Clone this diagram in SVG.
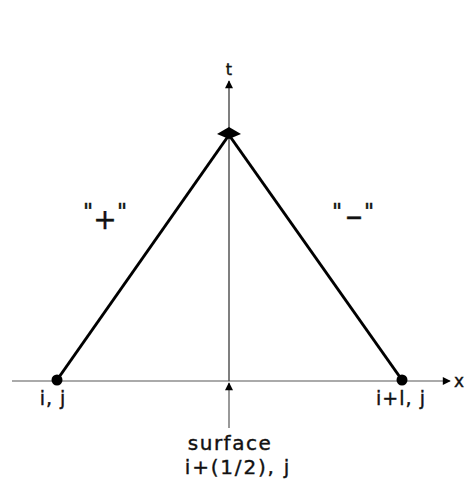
<svg xmlns="http://www.w3.org/2000/svg" width="467" height="489" viewBox="0 0 467 489">
<style>
text{font-family:"DejaVu Sans",sans-serif;fill:#111;stroke:#111;stroke-width:0.4}
.ax{stroke:#aaa;stroke-width:2;fill:none}
.ed{stroke:#000;stroke-width:3;fill:none}
</style>
<defs>
<marker id="ah" viewBox="0 0 10 10" refX="9" refY="5" markerWidth="10" markerHeight="8" markerUnits="userSpaceOnUse" orient="auto"><path d="M0,0L10,5L0,10z" fill="#000"/></marker>
</defs>
<rect width="467" height="489" fill="#fff"/>
<g id="connectors">
<line class="ax" x1="12" y1="381" x2="450" y2="381" marker-end="url(#ah)"/>
<line x1="229" y1="381" x2="229" y2="81" stroke="#555" stroke-width="1.5" marker-end="url(#ah)"/>
<line x1="229" y1="428" x2="229" y2="383" stroke="#777" stroke-width="1.5" marker-end="url(#ah)"/>
<line class="ed" x1="57" y1="380" x2="229" y2="135"/>
<line class="ed" x1="402" y1="380" x2="229" y2="135"/>
</g>
<g id="apex"><path d="M229,127L241,134L229,139L217,134z" fill="#000"/></g>
<g id="n-ij"><circle cx="57" cy="380" r="5.5" fill="#000"/><text x="53" y="405" font-size="19" letter-spacing="1" text-anchor="middle">i, j</text></g>
<g id="n-i1j"><circle cx="402" cy="380" r="5.5" fill="#000"/><text x="401" y="405" font-size="19" letter-spacing="1" text-anchor="middle">i+l, j</text></g>
<g id="axis-labels">
<text x="229" y="75" font-size="16" text-anchor="middle">t</text>
<text x="459" y="387" font-size="17" text-anchor="middle">x</text>
</g>
<g id="surface"><text x="230" y="450" font-size="20" letter-spacing="1.5" text-anchor="middle">surface</text><text x="238" y="474" font-size="20" letter-spacing="1.8" text-anchor="middle">i+(1/2), j</text></g>
<g id="plus"><text text-anchor="middle" font-size="22"><tspan x="88" y="219">"</tspan><tspan x="105" y="229" font-size="28">+</tspan><tspan x="122" y="219">"</tspan></text></g>
<g id="minus"><text text-anchor="middle" font-size="22"><tspan x="337" y="219">"</tspan><tspan x="354" y="227" font-size="34">–</tspan><tspan x="369" y="219">"</tspan></text></g>
</svg>
